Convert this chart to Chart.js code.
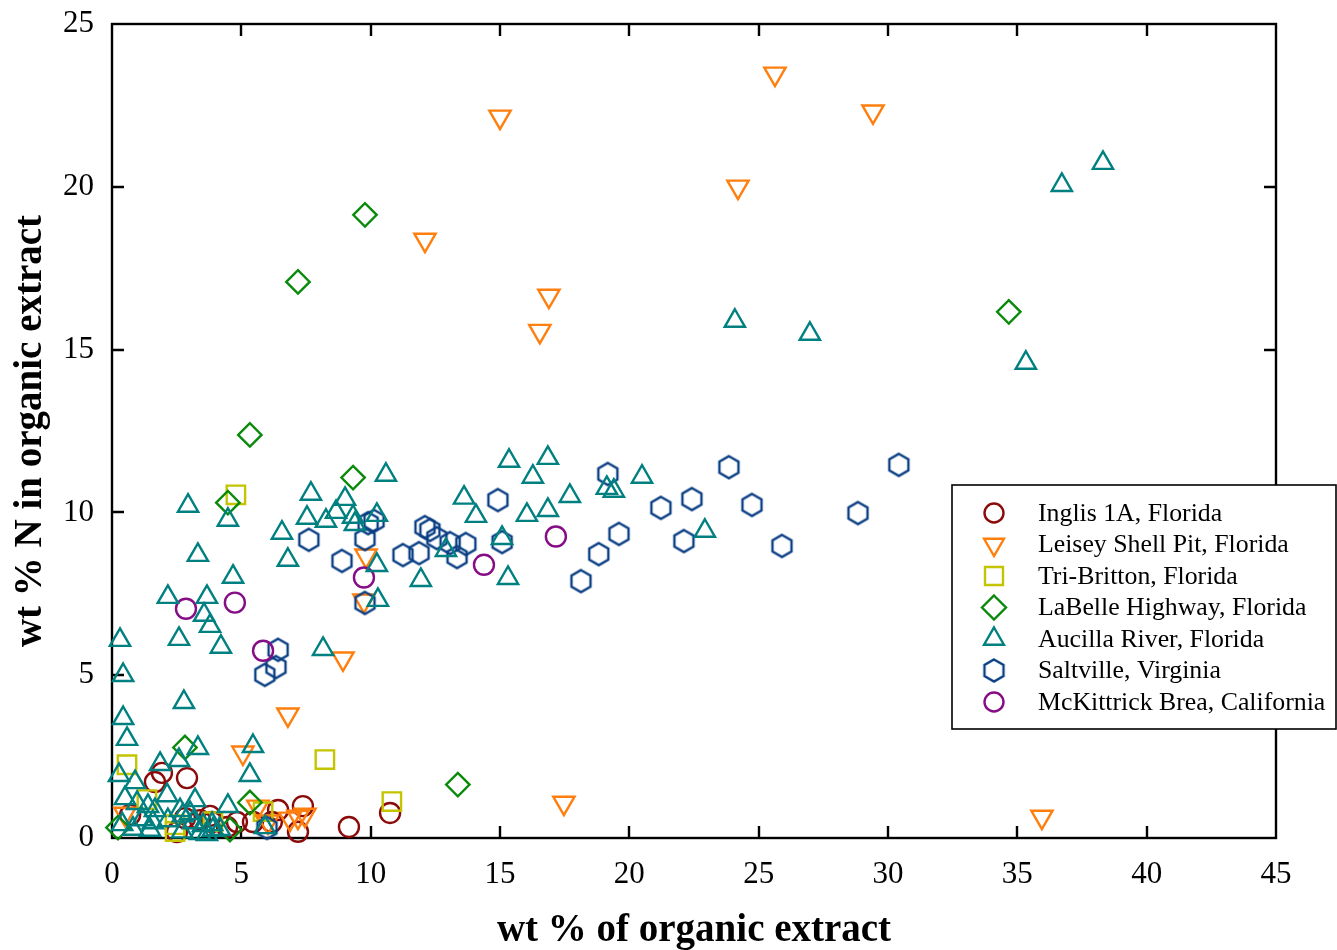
<!DOCTYPE html>
<html>
<head>
<meta charset="utf-8">
<script src="https://cdn.jsdelivr.net/npm/chart.js@4.4.1/dist/chart.umd.min.js"></script>
<style>
  html, body { margin: 0; padding: 0; background: #ffffff; }
  #wrap { width: 1337px; height: 950px; position: relative; }
</style>
</head>
<body>
<div id="wrap"><canvas id="c" width="1337" height="950"></canvas></div>
<script>
// ---- Data: wt % of organic extract (x) vs wt % N in organic extract (y) ----
const inglisX = [0.7, 1.93, 1.66, 2.9, 6.42, 7.38, 9.16, 10.75, 7.19, 5.45, 4.83, 3.87, 3.4, 4.45, 2.51, 6.18, 2.82, 3.79];
const inglisY = [0.71, 2.0, 1.72, 1.84, 0.86, 0.98, 0.34, 0.77, 0.19, 0.49, 0.49, 0.49, 0.55, 0.34, 0.18, 0.49, 0.61, 0.68];

const leiseyX = [25.63, 29.42, 15.0, 24.2, 12.1, 16.89, 16.54, 9.82, 9.74, 8.93, 6.8, 5.06, 17.47, 35.95, 0.5, 5.64, 6.03, 6.88, 7.19, 7.46];
const leiseyY = [23.47, 22.31, 22.15, 20.0, 18.37, 16.65, 15.57, 8.67, 7.29, 5.51, 3.79, 2.62, 1.08, 0.65, 0.74, 0.96, 0.5, 0.59, 0.65, 0.71];

const tribrittonX = [4.79, 0.58, 8.23, 10.82, 1.35, 2.44, 3.9, 2.44, 5.84];
const tribrittonY = [10.54, 2.25, 2.41, 1.12, 1.18, 0.41, 0.5, 0.2, 0.81];

const labelleX = [9.78, 7.19, 5.33, 9.32, 4.48, 34.67, 13.37, 2.82, 5.33, 0.23, 4.56];
const labelleY = [19.14, 17.08, 12.38, 11.07, 10.3, 16.16, 1.64, 2.78, 1.09, 0.32, 0.26];

const aucillaX = [38.31, 36.72, 24.08, 26.98, 35.33, 20.49, 22.92, 16.85, 15.35, 16.27, 13.61, 14.07, 10.59, 9.01, 8.66, 9.32, 10.24, 9.39,
  15.08, 12.91, 10.24, 11.94, 15.31, 16.04, 16.85, 17.7, 19.13, 19.4, 10.28, 7.69, 7.54, 8.27, 6.57, 6.8, 2.94, 4.48, 3.32, 4.68,
  2.16, 3.67, 3.56, 3.79, 2.59, 4.21, 8.16, 0.31, 0.43, 2.78, 0.43, 0.58, 3.32, 5.45, 1.86, 2.59, 5.33, 0.27, 0.89, 0.5, 2.13,
  0.97, 1.39, 3.21, 4.48, 1.66, 2.63, 3.02, 0.39, 0.81, 1.16, 1.58, 2.16, 2.74, 3.13, 3.52, 3.87, 4.17, 5.91, 1.47, 2.71, 3.4, 3.9, 3.67];
const aucillaY = [20.73, 20.05, 15.88, 15.48, 14.59, 11.09, 9.43, 11.67, 11.58, 11.09, 10.45, 9.89, 11.15, 10.41, 10.01, 9.86, 9.92, 9.64,
  9.21, 8.84, 8.38, 7.92, 7.98, 9.92, 10.07, 10.5, 10.75, 10.66, 7.31, 10.57, 9.83, 9.74, 9.37, 8.54, 10.2, 9.77, 8.69, 8.02,
  7.4, 7.4, 6.85, 6.51, 6.11, 5.87, 5.8, 6.08, 5.0, 4.17, 3.68, 3.04, 2.76, 2.82, 2.27, 2.39, 1.93, 1.93, 1.71, 1.22, 1.31,
  1.07, 0.98, 1.16, 0.98, 0.85, 0.85, 0.76, 0.42, 0.28, 0.57, 0.48, 0.54, 0.69, 0.48, 0.39, 0.42, 0.27, 0.33, 0.25, 0.2, 0.15, 0.25, 0.12];

const saltvilleX = [7.61, 8.89, 9.78, 9.9, 10.13, 9.78, 6.42, 6.34, 5.91, 11.25, 11.87, 12.1, 12.29, 12.56, 13.07, 13.34, 13.68, 14.92,
  15.08, 19.17, 18.13, 18.82, 19.6, 21.22, 22.42, 22.11, 23.85, 24.74, 25.9, 28.84, 30.42, 5.99];
const saltvilleY = [9.16, 8.51, 9.18, 9.67, 9.74, 7.22, 5.78, 5.25, 5.01, 8.69, 8.75, 9.55, 9.46, 9.21, 9.06, 8.63, 9.03, 10.38,
  9.09, 11.18, 7.89, 8.72, 9.34, 10.14, 10.41, 9.12, 11.39, 10.23, 8.97, 9.98, 11.46, 0.31];

const mckittrickX = [2.86, 4.75, 5.84, 9.74, 14.38, 17.16];
const mckittrickY = [7.04, 7.23, 5.75, 8.0, 8.39, 9.26];

const xTicks = [0, 5, 10, 15, 20, 25, 30, 35, 40, 45];
const yTicks = [0, 5, 10, 15, 20, 25];

const seriesNames = [
  'Inglis 1A, Florida',
  'Leisey Shell Pit, Florida',
  'Tri-Britton, Florida',
  'LaBelle Highway, Florida',
  'Aucilla River, Florida',
  'Saltville, Virginia',
  'McKittrick Brea, California'
];

// ---- Styling ----
const SERIF = "'Liberation Serif', 'Times New Roman', Times, serif";
const colors = {
  inglis: '#8b0a0a',
  leisey: '#ff7f0e',
  tri: '#c4c400',
  labelle: '#0a8a0a',
  aucilla: '#008080',
  saltville: '#0b3f84',
  mck: '#860d86'
};
const LW = 2.4;

// pointy-top hexagon marker as an offscreen canvas
function hexagonImage(R, color, lw) {
  const size = Math.ceil(2 * (R + lw)) + 2;
  const cv = document.createElement('canvas');
  cv.width = size; cv.height = size;
  const g = cv.getContext('2d');
  const c = size / 2;
  g.beginPath();
  for (let i = 0; i < 6; i++) {
    const a = -Math.PI / 2 + i * Math.PI / 3;
    const px = c + R * Math.cos(a), py = c + R * Math.sin(a);
    if (i === 0) g.moveTo(px, py); else g.lineTo(px, py);
  }
  g.closePath();
  g.strokeStyle = color;
  g.lineWidth = lw;
  g.stroke();
  return cv;
}
const hexMarker = hexagonImage(11, colors.saltville, LW);

function pairs(xs, ys) {
  return xs.map((x, i) => ({ x: x, y: ys[i] }));
}

function series(label, xs, ys, color, style, radius, rotation, order) {
  return {
    label: label,
    data: pairs(xs, ys),
    borderColor: color,
    backgroundColor: 'rgba(0,0,0,0)',
    pointStyle: style,
    pointRadius: radius,
    pointHoverRadius: radius,
    pointBorderWidth: LW,
    pointHoverBorderWidth: LW,
    pointRotation: rotation,
    showLine: false,
    clip: false,
    order: order
  };
}

const datasets = [
  series(seriesNames[0], inglisX, inglisY, colors.inglis, 'circle', 10, 0, 6),
  series(seriesNames[1], leiseyX, leiseyY, colors.leisey, 'triangle', 12.3, 180, 5),
  series(seriesNames[2], tribrittonX, tribrittonY, colors.tri, 'rect', 13, 0, 4),
  series(seriesNames[3], labelleX, labelleY, colors.labelle, 'rectRot', 11.7, 0, 3),
  series(seriesNames[4], aucillaX, aucillaY, colors.aucilla, 'triangle', 11.7, 0, 0),
  series(seriesNames[5], saltvilleX, saltvilleY, colors.saltville, hexMarker, 11, 0, 2),
  series(seriesNames[6], mckittrickX, mckittrickY, colors.mck, 'circle', 10, 0, 1)
];

// ---- Frame with inward ticks on all four sides ----
const framePlugin = {
  id: 'frame',
  beforeDatasetsDraw(chart) {
    const { ctx, chartArea: a, scales } = chart;
    const TL = 12;
    ctx.save();
    ctx.strokeStyle = '#000';
    ctx.lineWidth = 2.4;
    ctx.strokeRect(a.left, a.top, a.right - a.left, a.bottom - a.top);
    ctx.beginPath();
    xTicks.forEach(v => {
      const px = Math.round(scales.x.getPixelForValue(v));
      if (v === xTicks[0] || v === xTicks[xTicks.length - 1]) return;
      ctx.moveTo(px, a.bottom); ctx.lineTo(px, a.bottom - TL);
      ctx.moveTo(px, a.top); ctx.lineTo(px, a.top + TL);
    });
    yTicks.forEach(v => {
      const py = Math.round(scales.y.getPixelForValue(v));
      if (v === yTicks[0] || v === yTicks[yTicks.length - 1]) return;
      ctx.moveTo(a.left, py); ctx.lineTo(a.left + TL, py);
      ctx.moveTo(a.right, py); ctx.lineTo(a.right - TL, py);
    });
    ctx.stroke();
    ctx.restore();
  }
};

// ---- Boxed legend at the right ----
function drawLegendMarker(ctx, ds, x, y) {
  const st = ds.pointStyle;
  ctx.save();
  ctx.strokeStyle = ds.borderColor;
  ctx.lineWidth = LW;
  ctx.beginPath();
  if (st instanceof HTMLCanvasElement) {
    ctx.drawImage(st, x - st.width / 2, y - st.height / 2);
    ctx.restore();
    return;
  }
  if (st === 'circle') {
    ctx.arc(x, y, 9.5, 0, Math.PI * 2);
  } else if (st === 'triangle') {
    const r = 11.5;
    const rot = (ds.pointRotation || 0) * Math.PI / 180;
    for (let i = 0; i < 3; i++) {
      const ang = rot + i * 2 * Math.PI / 3;
      const px = x + Math.sin(ang) * r, py = y - Math.cos(ang) * r;
      if (i === 0) ctx.moveTo(px, py); else ctx.lineTo(px, py);
    }
    ctx.closePath();
  } else if (st === 'rect') {
    ctx.rect(x - 9, y - 9, 18, 18);
  } else if (st === 'rectRot') {
    const r = 12;
    ctx.moveTo(x, y - r); ctx.lineTo(x + r, y); ctx.lineTo(x, y + r); ctx.lineTo(x - r, y); ctx.closePath();
  }
  ctx.stroke();
  ctx.restore();
}

const boxLegend = {
  id: 'boxLegend',
  afterDraw(chart) {
    const { ctx } = chart;
    const box = { left: 952, top: 485, right: 1336, bottom: 729 };
    ctx.save();
    ctx.fillStyle = '#fff';
    ctx.fillRect(box.left, box.top, box.right - box.left, box.bottom - box.top);
    ctx.strokeStyle = '#000';
    ctx.lineWidth = 1.6;
    ctx.strokeRect(box.left, box.top, box.right - box.left, box.bottom - box.top);
    ctx.font = '25.8px ' + SERIF;
    ctx.fillStyle = '#000';
    ctx.textBaseline = 'middle';
    ctx.textAlign = 'left';
    chart.data.datasets.forEach((ds, i) => {
      const y = 513 + i * 31.5;
      drawLegendMarker(ctx, ds, 994, y);
      ctx.fillText(ds.label, 1038, y + 1);
    });
    ctx.restore();
  }
};

new Chart(document.getElementById('c'), {
  type: 'scatter',
  data: { datasets: datasets },
  plugins: [framePlugin, boxLegend],
  options: {
    responsive: false,
    animation: false,
    devicePixelRatio: 1,
    layout: { padding: { left: 0, right: 61, top: 24, bottom: 0 } },
    plugins: {
      legend: { display: false },
      tooltip: { enabled: true }
    },
    scales: {
      x: {
        type: 'linear',
        min: xTicks[0],
        max: xTicks[xTicks.length - 1],
        afterBuildTicks(scale) { scale.ticks = xTicks.map(v => ({ value: v })); },
        afterFit(scale) {
          scale.height = 112;
          scale.paddingLeft = 0;
          scale.paddingRight = 0;
        },
        grid: { display: false, drawTicks: false },
        border: { display: false },
        ticks: {
          color: '#000',
          padding: 18,
          maxRotation: 0,
          font: { family: SERIF, size: 31 }
        },
        title: {
          display: true,
          text: 'wt % of organic extract',
          color: '#000',
          font: { family: SERIF, size: 39, weight: 'bold' },
          padding: { top: 0, bottom: -4 }
        }
      },
      y: {
        type: 'linear',
        min: yTicks[0],
        max: yTicks[yTicks.length - 1],
        afterBuildTicks(scale) { scale.ticks = yTicks.map(v => ({ value: v })); },
        afterFit(scale) {
          scale.width = 112;
          scale.paddingTop = 0;
          scale.paddingBottom = 0;
        },
        grid: { display: false, drawTicks: false },
        border: { display: false },
        ticks: {
          color: '#000',
          padding: 18,
          font: { family: SERIF, size: 31 }
        },
        title: {
          display: true,
          text: 'wt % N in organic extract',
          color: '#000',
          font: { family: SERIF, size: 39, weight: 'bold' },
          padding: { top: 8, bottom: 0 }
        }
      }
    }
  }
});
</script>
</body>
</html>
